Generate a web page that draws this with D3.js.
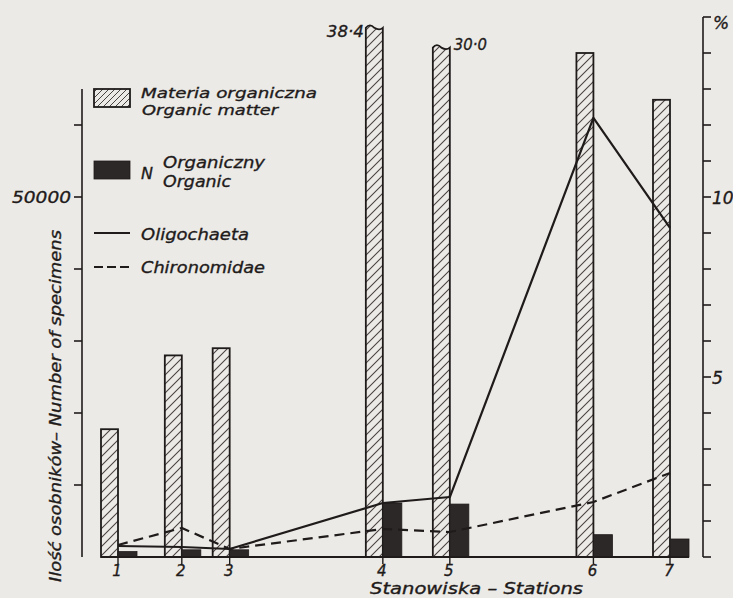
<!DOCTYPE html>
<html><head><meta charset="utf-8">
<script src="https://cdn.jsdelivr.net/npm/d3@7"></script>
<style>html,body{margin:0;padding:0;background:#ebeae6;} svg{display:block;}</style>
</head><body><svg id="c" width="733" height="598"></svg>
<script>
// ---- data ----
const stations = ["1","2","3","4","5","6","7"];
const stationPos = [0, 1.0, 1.75, 4.15, 5.2, 7.45, 8.65];          // relative position along the river
const organicMatter = [3.55, 5.6, 5.8, 38.4, 30.0, 14.0, 12.7];      // % (right axis)
const organicMatterBroken = [null, null, null, 14.7, 14.15, null, null]; // drawn (broken) height, %
const organicMatterBrokenLabels = [null, null, null, "38·4", "30·0", null, null];
const nitrogenOrganic = [0.15, 0.2, 0.2, 1.5, 1.47, 0.62, 0.5];       // % (right axis)
const oligochaeta = [1530, 1390, 1110, 7500, 8330, 61000, 45700];     // specimens (left axis)
const chironomidae = [1670, 4030, 1110, 3890, 3470, 7640, 11670];     // specimens (left axis)
const leftTicks = [10000, 20000, 30000, 40000, 50000, 60000];
const leftTickLabels = ["", "", "", "", "50000", ""];
const rightTicks = [1,2,3,4,5,6,7,8,9,10,11,12,13,14];
const rightTickLabels = ["","","","","5","","","","","10","","","",""];
const legendLabels = ["Materia organiczna", "Organic matter", "Organiczny", "Organic", "Oligochaeta", "Chironomidae"];

const ink = "#1f1b1b";
const FONT = "'DejaVu Sans', sans-serif";
const svg = d3.select("#c");

const x = d3.scaleLinear().domain([0, 8.65]).range([118, 670]);
const yP = d3.scaleLinear().domain([0, 15]).range([557, 17]);
const yN = d3.scaleLinear().domain([0, 75000]).range([557, 17]);

// hatch patterns
const defs = svg.append("defs");
function hatch(id, s, w) {
  const p = defs.append("pattern").attr("id", id).attr("patternUnits", "userSpaceOnUse")
    .attr("width", s).attr("height", s);
  p.append("path").attr("d", `M${-s/2},${s/2} L${s/2},${-s/2} M0,${s} L${s},0 M${s/2},${s*1.5} L${s*1.5},${s/2}`)
    .attr("stroke", "#4a4343").attr("stroke-width", w).attr("fill", "none");
}
hatch("h1", 9, 1.1);
hatch("h2", 6, 1);

function txt(g, t, xx, yy, opts = {}) {
  const e = g.append("text").attr("x", xx).attr("y", yy).text(t)
    .attr("font-family", FONT).attr("font-style", "italic")
    .attr("font-size", opts.size || 16).attr("fill", ink)
    .attr("stroke", ink).attr("stroke-width", 0.35);
  if (opts.len) e.attr("textLength", opts.len).attr("lengthAdjust", "spacingAndGlyphs");
  if (opts.anchor) e.attr("text-anchor", opts.anchor);
  if (opts.transform) e.attr("transform", opts.transform);
  return e;
}

const data = stations.map((s, i) => ({
  s, p: stationPos[i], om: organicMatter[i], omB: organicMatterBroken[i], omL: organicMatterBrokenLabels[i],
  n: nitrogenOrganic[i], ol: oligochaeta[i], ch: chironomidae[i]
}));

const HW = 17, DW = 19;

// hatched bars (organic matter)
const gb = svg.append("g");
data.forEach(d => {
  const x1 = x(d.p), x0 = x1 - HW;
  const v = d.omB != null ? d.omB : d.om;
  const top = yP(v), base = yP(0);
  if (d.omB == null) {
    gb.append("rect").attr("x", x0).attr("y", top).attr("width", HW).attr("height", base - top)
      .attr("fill", "url(#h1)").attr("stroke", ink).attr("stroke-width", 1.8);
  } else {
    const path = `M${x0},${base} L${x0},${top} Q${x0 + 4},${top - 5} ${x0 + HW/2},${top} Q${x0 + HW*0.8},${top + 3} ${x1},${top} L${x1},${base} Z`;
    gb.append("path").attr("d", path).attr("fill", "url(#h1)").attr("stroke", ink).attr("stroke-width", 1.8);
  }
});

// dark bars (N organic)
data.forEach(d => {
  const x0 = x(d.p);
  gb.append("rect").attr("x", x0).attr("y", yP(d.n)).attr("width", DW).attr("height", yP(0) - yP(d.n))
    .attr("fill", "#2c2828").attr("stroke", ink).attr("stroke-width", 0.8);
});

// broken bar labels
data.filter(d => d.omL).forEach(d => {
  if (d.s === "4") txt(svg, d.omL, x(d.p) - HW - 2, yP(d.omB) + 9, { anchor: "end", len: 37, size: 16 });
  else txt(svg, d.omL, x(d.p) + 4, yP(d.omB) + 2, { len: 33, size: 16 });
});

// baseline
svg.append("line").attr("x1", x(stationPos[0]) - HW).attr("x2", x(stationPos[6]) + DW)
  .attr("y1", yP(0)).attr("y2", yP(0)).attr("stroke", ink).attr("stroke-width", 1.8);

// station ticks + labels
data.forEach(d => {
  svg.append("line").attr("x1", x(d.p)).attr("x2", x(d.p)).attr("y1", yP(0)).attr("y2", yP(0) + 7)
    .attr("stroke", ink).attr("stroke-width", 1.4);
  txt(svg, d.s, x(d.p) - 1, 576, { anchor: "middle", size: 15 });
});

// lines
const line = d3.line().x(d => x(d.p));
svg.append("path").datum(data).attr("d", line.y(d => yN(d.ol)))
  .attr("fill", "none").attr("stroke", ink).attr("stroke-width", 2.2).attr("stroke-linejoin", "round");
svg.append("path").datum(data).attr("d", line.y(d => yN(d.ch)))
  .attr("fill", "none").attr("stroke", ink).attr("stroke-width", 2.2).attr("stroke-dasharray", "10,6");

// left axis
const LX = 82;
svg.append("line").attr("x1", LX).attr("x2", LX).attr("y1", yN(65000)).attr("y2", yN(0))
  .attr("stroke", ink).attr("stroke-width", 1.6);
leftTicks.forEach((t, i) => {
  svg.append("line").attr("x1", LX - 8).attr("x2", LX).attr("y1", yN(t)).attr("y2", yN(t))
    .attr("stroke", ink).attr("stroke-width", 1.6);
  if (leftTickLabels[i]) txt(svg, leftTickLabels[i], LX - 11, yN(t) + 6, { anchor: "end", len: 59, size: 16 });
});
txt(svg, "Ilość osobników\u2013 Number of specimens", 0, 0,
  { anchor: "middle", len: 352, size: 16, transform: `translate(61,406) rotate(-90)` });

// right axis
const RX = 703;
svg.append("line").attr("x1", RX).attr("x2", RX).attr("y1", yP(15)).attr("y2", yP(0))
  .attr("stroke", ink).attr("stroke-width", 1.6);
[0, ...rightTicks, 15].forEach(t => {
  svg.append("line").attr("x1", RX).attr("x2", RX + 8).attr("y1", yP(t)).attr("y2", yP(t))
    .attr("stroke", ink).attr("stroke-width", 1.6);
});
rightTicks.forEach((t, i) => {
  if (rightTickLabels[i]) txt(svg, rightTickLabels[i], RX + 9, yP(t) + 7, { size: 17 });
});
txt(svg, "%", RX + 10, yP(15) + 12, { size: 17 });

// x axis title
txt(svg, "Stanowiska \u2013 Stations", 370, 594, { len: 213, size: 15 });

// legend
const lg = svg.append("g");
lg.append("rect").attr("x", 94).attr("y", 89).attr("width", 36).attr("height", 18)
  .attr("fill", "url(#h2)").attr("stroke", ink).attr("stroke-width", 1.8);
txt(lg, legendLabels[0], 141, 98, { len: 176, size: 14.5 });
txt(lg, legendLabels[1], 142, 115, { len: 136, size: 14.5 });
lg.append("rect").attr("x", 94).attr("y", 161).attr("width", 36).attr("height", 18)
  .attr("fill", "#2c2828").attr("stroke", ink).attr("stroke-width", 0.8);
txt(lg, "N", 141, 179, { size: 16 });
txt(lg, legendLabels[2], 163, 168, { len: 102 });
txt(lg, legendLabels[3], 163, 187, { len: 68 });
lg.append("line").attr("x1", 94).attr("x2", 130).attr("y1", 233).attr("y2", 233)
  .attr("stroke", ink).attr("stroke-width", 2.2);
txt(lg, legendLabels[4], 141, 240, { len: 108 });
lg.append("line").attr("x1", 94).attr("x2", 130).attr("y1", 267).attr("y2", 267)
  .attr("stroke", ink).attr("stroke-width", 2.2).attr("stroke-dasharray", "9,4");
txt(lg, legendLabels[5], 141, 273, { len: 124 });
</script></body></html>
